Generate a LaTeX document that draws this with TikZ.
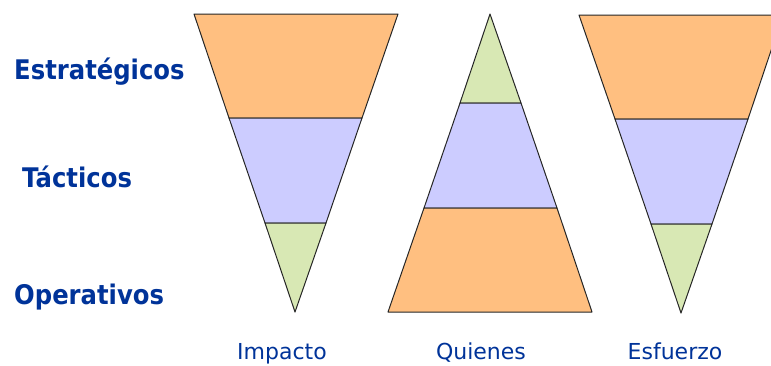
\documentclass[tikz,border=0pt]{standalone}
\usepackage{fontspec}
\setmainfont{DejaVu Sans}
\definecolor{lblue}{HTML}{003399}
\definecolor{orng}{HTML}{FFBF80}
\definecolor{lav}{HTML}{CCCCFF}
\definecolor{grn}{HTML}{D8E8B4}
\tikzset{
  band/.style={draw=black!85, line width=1pt, line join=round},
  side/.style={font=\fontsize{27}{31}\selectfont\bfseries, text=lblue, anchor=base west, inner sep=0pt},
  foot/.style={font=\fontsize{22}{26}\selectfont, text=lblue, anchor=base, inner sep=0pt}
}
\begin{document}
\begin{tikzpicture}[x=1pt,y=-1pt]
\useasboundingbox (0,0) rectangle (771,365);
\clip (0,0) rectangle (771,365);
% Impacto (inverted)
\filldraw[band, fill=orng] (194,14) -- (398,14) -- (362,118) -- (229,118) -- cycle;
\filldraw[band, fill=lav] (229,118) -- (362,118) -- (326,223) -- (265,223) -- cycle;
\filldraw[band, fill=grn] (265,223) -- (326,223) -- (295,312) -- cycle;
% Quienes (upright)
\filldraw[band, fill=grn] (490,14) -- (521,103) -- (460,103) -- cycle;
\filldraw[band, fill=lav] (460,103) -- (521,103) -- (557,208) -- (424,208) -- cycle;
\filldraw[band, fill=orng] (424,208) -- (557,208) -- (592,312) -- (388,312) -- cycle;
% Esfuerzo (inverted)
\filldraw[band, fill=orng] (579,15) -- (783,15) -- (748,119) -- (615,119) -- cycle;
\filldraw[band, fill=lav] (615,119) -- (748,119) -- (712,224) -- (651,224) -- cycle;
\filldraw[band, fill=grn] (651,224) -- (712,224) -- (681,313) -- cycle;
% side labels
\node[side] (est) at (14,79) {\scalebox{0.9}[1]{Estratégicos}};
\node[side] (tac) at (22,187) {\scalebox{0.9}[1]{Tácticos}};
\node[side] (ope) at (14,304) {\scalebox{0.9}[1]{Operativos}};
% foot labels
\node[foot] (imp) at (282,359) {Impacto};
\node[foot] (qui) at (481,359) {Quienes};
\node[foot] (esf) at (675,359) {Esfuerzo};
\end{tikzpicture}
\end{document}
